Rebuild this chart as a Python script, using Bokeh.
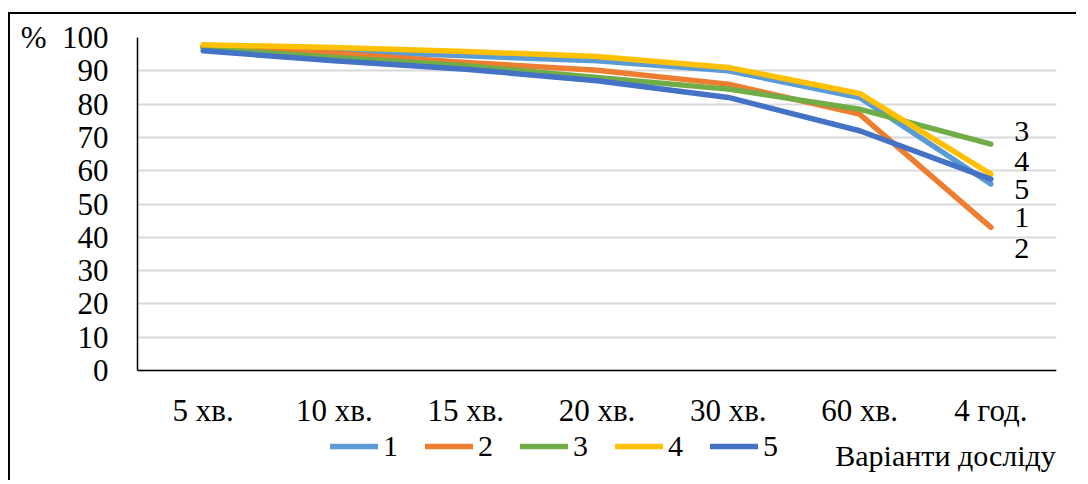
from bokeh.plotting import figure
from bokeh.models import FactorRange, Range1d, Legend, LegendItem, Label, FixedTicker
from bokeh.core.properties import value
from bokeh.embed import file_html
from bokeh.resources import INLINE

categories = ["5 хв.", "10 хв.", "15 хв.", "20 хв.", "30 хв.", "60 хв.", "4 год."]
series_names = ["1", "2", "3", "4", "5"]
s1 = [97.3, 96.0, 94.5, 93.0, 90.0, 82.0, 56.0]
s2 = [97.0, 95.3, 92.5, 90.2, 86.0, 77.0, 43.0]
s3 = [96.8, 94.0, 91.5, 88.0, 84.5, 78.5, 68.0]
s4 = [97.8, 97.0, 95.8, 94.3, 91.0, 83.2, 59.0]
s5 = [96.0, 93.0, 90.5, 87.0, 82.0, 72.0, 57.5]
series = [s1, s2, s3, s4, s5]
colors = ["#5B9BD5", "#ED7D31", "#70AD47", "#FFC000", "#4472C4"]
y_ticks = [0, 10, 20, 30, 40, 50, 60, 70, 80, 90, 100]
end_label_order = ["3", "4", "5", "1", "2"]
end_label_y = [71.8, 62.8, 54.4, 46.0, 36.6]
x_title = "Варіанти досліду"

FONT = "Liberation Serif"
FS = "31px"

p = figure(x_range=FactorRange(*categories, range_padding=0),
           y_range=Range1d(-33, 100),
           width=1068, height=468,
           output_backend="svg", toolbar_location=None,
           min_border_left=127, min_border_right=22,
           min_border_top=23, min_border_bottom=2,
           styles={"border-left": "2px solid black",
                   "border-top": "2px solid black",
                   "position": "relative", "top": "12px", "left": "8px"})
p.outline_line_color = None
p.xgrid.grid_line_color = None
p.ygrid.grid_line_color = "#d9d9d9"
p.ygrid.grid_line_width = 2

p.yaxis.ticker = FixedTicker(ticks=y_ticks)
p.ygrid.ticker = FixedTicker(ticks=y_ticks)
p.yaxis.bounds = (0, 100)
p.xaxis.fixed_location = 0
p.yaxis.major_label_overrides = {100: "%\u00a0\u00a0100"}
for ax in (p.xaxis[0], p.yaxis[0]):
    ax.axis_line_color = "black"
    ax.axis_line_width = 1.5
    ax.major_tick_line_color = None
    ax.minor_tick_line_color = None
    ax.major_label_text_font = FONT
    ax.major_label_text_font_size = FS
    ax.major_label_text_color = "black"
p.yaxis.major_label_standoff = 23
p.xaxis.major_label_standoff = 16

renderers = []
for name, ys, c in zip(series_names, series, colors):
    r = p.line(x=categories, y=ys, line_color=c, line_width=5.5,
               line_cap="round", line_join="round")
    renderers.append(r)

p.text(x=["4 год."] * 5, y=end_label_y, text=end_label_order,
       x_offset=31, text_align="center", text_baseline="middle",
       text_font=value(FONT), text_font_size="30px",
       text_font_style="normal", text_color="black")

legend = Legend(items=[LegendItem(label=n, renderers=[r]) for n, r in zip(series_names, renderers)],
                orientation="horizontal", location=(193, 17),
                glyph_width=48, glyph_height=20, label_width=14, label_height=20,
                label_standoff=5, spacing=27, padding=0, margin=0,
                border_line_color=None, background_fill_alpha=0,
                label_text_font=FONT, label_text_font_size="30px",
                label_text_color="black", label_text_baseline="middle")
p.add_layout(legend, "center")

p.add_layout(Label(x=6.995, y=-25.5, text=x_title, text_align="right",
                   text_baseline="middle", text_font=FONT, text_font_size="30px",
                   text_color="black"))

open("out.html", "w").write(file_html(p, INLINE))
